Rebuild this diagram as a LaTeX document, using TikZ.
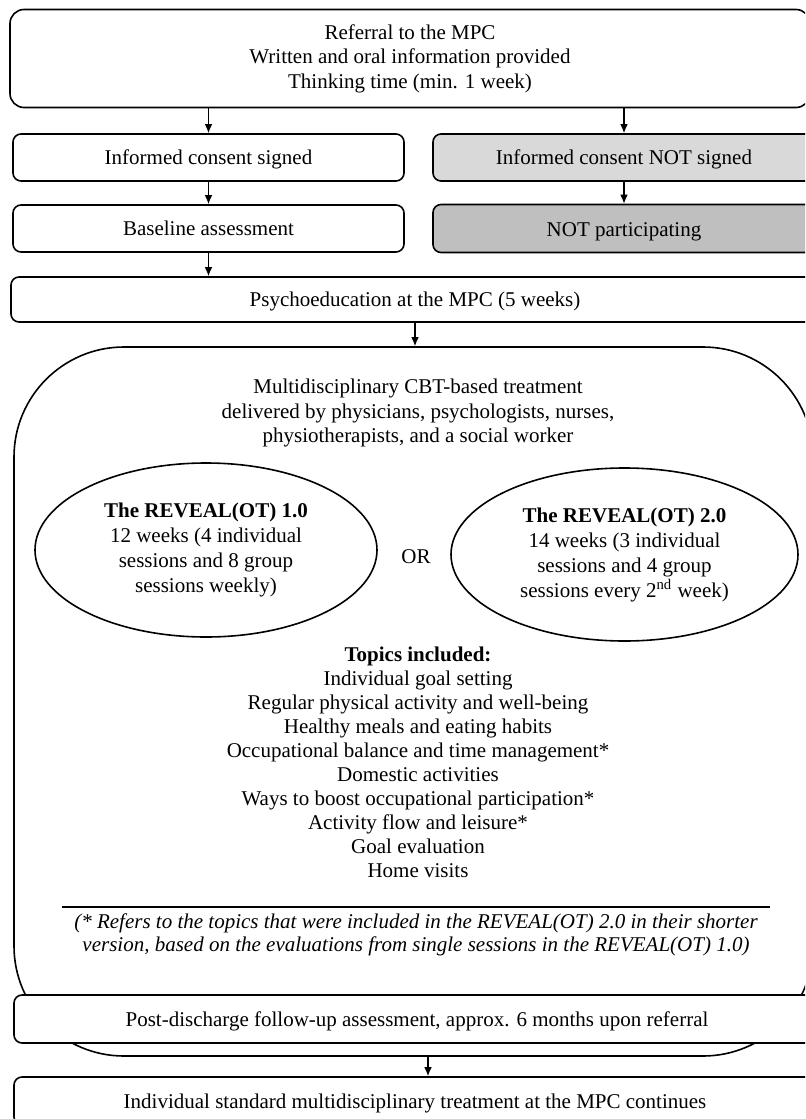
\documentclass[tikz,border=0pt]{standalone}
\usepackage{fontspec}
\setmainfont{Liberation Serif}
\usetikzlibrary{shapes.geometric,arrows.meta,calc}
\tikzset{
  flowbox/.style={draw, line width=0.8pt, rounded corners=4pt, align=center, inner sep=0pt, fill=white,
    font=\fontsize{10.5}{12.3}\selectfont},
  oneline/.style={text height=8.3pt, text depth=1.3pt},
  arr/.style={-{Latex[length=4.5pt,width=3.8pt]}, line width=0.65pt},
  oval/.style={draw, ellipse, line width=0.8pt, align=center, inner sep=0pt,
    font=\fontsize{10.5}{12.5}\selectfont},
  plaintext/.style={align=center, inner sep=0pt, font=\fontsize{10.5}{12.2}\selectfont},
}
\begin{document}
\begin{tikzpicture}[x=0.5pt,y=-0.5pt]
\useasboundingbox (0,0) rectangle (805,1119);
\clip (0,0) rectangle (805,1119);
\fill[white] (0,0) rectangle (805,1119);

% top
\node[flowbox, rounded corners=7pt, minimum width=400pt, minimum height=49pt] (ref) at (410,58.5)
  {Referral to the MPC\\Written and oral information provided\\Thinking time (min. 1 week)};
\node[flowbox, oneline, minimum width=195.5pt, minimum height=23.5pt] (ics) at (208.5,157.5) {Informed consent signed};
\node[flowbox, oneline, fill=black!15, minimum width=191pt, minimum height=23.5pt] (icn) at (624,157.5) {Informed consent NOT signed};
\node[flowbox, oneline, minimum width=195.5pt, minimum height=23.5pt] (base) at (208.5,228.5) {Baseline assessment};
\node[flowbox, oneline, text height=9.5pt, fill=black!25, minimum width=191pt, minimum height=24pt] (notp) at (624,228.5) {NOT participating};
\node[flowbox, oneline, minimum width=404pt, minimum height=22.5pt] (psy) at (415,299.5) {Psychoeducation at the MPC (5 weeks)};

% big treatment box
\node[draw, line width=0.8pt, rounded corners=55pt, minimum width=399.5pt, minimum height=354.5pt, inner sep=0pt] (big) at (413.5,701.5) {};
\node[plaintext] (head) at (418,413) {Multidisciplinary CBT-based treatment\\delivered by physicians, psychologists, nurses,\\physiotherapists, and a social worker};
\node[oval, minimum width=171pt, minimum height=87pt] (ell1) at (206,550)
  {\textbf{The REVEAL(OT) 1.0}\\12 weeks (4 individual\\sessions and 8 group\\sessions weekly)};
\node[plaintext] (or) at (416,557) {OR};
\node[oval, minimum width=173.5pt, minimum height=86.5pt] (ell2) at (624.5,554.5)
  {\textbf{The REVEAL(OT) 2.0}\\14 weeks (3 individual\\sessions and 4 group\\sessions every 2\textsuperscript{nd} week)};
\node[plaintext, font=\fontsize{10.5}{12}\selectfont] (topics) at (418,762.5)
  {\textbf{Topics included:}\\Individual goal setting\\Regular physical activity and well-being\\Healthy meals and eating habits\\Occupational balance and time management*\\Domestic activities\\Ways to boost occupational participation*\\Activity flow and leisure*\\Goal evaluation\\Home visits};
\draw[line width=0.8pt] (62,907) -- (770,907);
\node[plaintext, font=\fontsize{10.5}{11.6}\selectfont\itshape] (foot) at (416,935)
  {(* Refers to the topics that were included in the REVEAL(OT) 2.0 in their shorter\\version, based on the evaluations from single sessions in the REVEAL(OT) 1.0)};

\node[flowbox, oneline, minimum width=403pt, minimum height=24pt] (post) at (417,1019) {Post-discharge follow-up assessment, approx. 6 months upon referral};
\node[flowbox, oneline, minimum width=401pt, minimum height=24pt] (final) at (415,1101) {Individual standard multidisciplinary treatment at the MPC continues};

% arrows
\draw[arr] (ref.south -| ics.north) -- (ics.north);
\draw[arr] (ref.south -| icn.north) -- (icn.north);
\draw[arr] (ics) -- (base);
\draw[arr] (icn) -- (notp);
\draw[arr] (base.south) -- (base.south |- psy.north);
\draw[arr] (psy.south) -- (psy.south |- big.north);
\draw[arr] ([xshift=7.25pt]big.south) -- ([xshift=7.25pt]big.south |- final.north);
\end{tikzpicture}
\end{document}
